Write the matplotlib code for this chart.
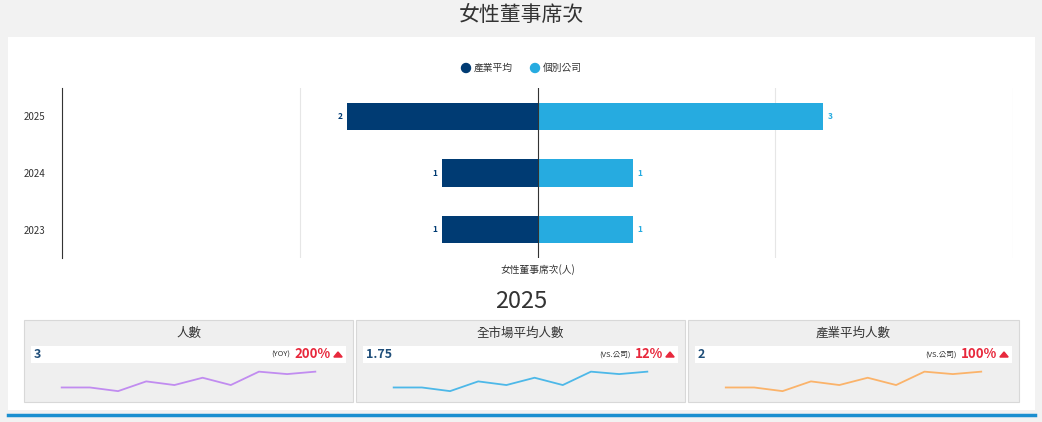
import matplotlib.pyplot as plt
from matplotlib.patches import Rectangle, Polygon, Ellipse

plt.rcParams['font.family'] = ['Noto Sans CJK TC', 'DejaVu Sans']

# data
years = ["2023", "2024", "2025"]
industry_avg = [1, 1, 2]
company = [1, 1, 3]

card_titles = ["人數", "全市場平均人數", "產業平均人數"]
card_values = ["3", "1.75", "2"]
card_tags = ["(YOY)", "(VS.公司)", "(VS.公司)"]
card_pcts = ["200%", "12%", "100%"]
card_colors = ["#c18cf0", "#4db8e8", "#fbb36a"]
spark = [1.0, 1.0, 0.7, 1.5, 1.2, 1.8, 1.2, 2.3, 2.1, 2.3]

W, H = 1042, 422
fig = plt.figure(figsize=(W / 100, H / 100), dpi=100)
fig.patch.set_facecolor("#f2f2f2")

def fx(px):
    return px / W

def fy(py):
    return 1 - py / H

# white panel
fig.patches.append(Rectangle((fx(8), fy(410)), fx(1035) - fx(8), fy(37) - fy(410),
                             transform=fig.transFigure, facecolor="white", edgecolor="none", zorder=0))
fig.text(0.5, fy(15), "女性董事席次", ha="center", va="center", fontsize=15, color="#333333")

# bar chart
ax = fig.add_axes([fx(62), fy(258), fx(1013) - fx(62), fy(88) - fy(258)])
ax.set_zorder(5)
ax.patch.set_alpha(0)
y = range(len(years))
ax.barh(y, [-v for v in industry_avg], height=0.48, color="#003b73")
ax.barh(y, company, height=0.48, color="#26abe0")
for i in y:
    ax.text(-industry_avg[i] - 0.05, i, str(industry_avg[i]), ha="right", va="center",
            fontsize=6, color="#003b73", fontweight="bold")
    ax.text(company[i] + 0.05, i, str(company[i]), ha="left", va="center",
            fontsize=6, color="#26abe0", fontweight="bold")
ax.set_xlim(-5, 5)
ax.set_ylim(-0.5, 2.5)
ax.set_xticks([-5, -2.5, 2.5, 5])
ax.set_xticklabels([])
ax.tick_params(length=0)
ax.grid(axis="x", color="#e6e6e6", linewidth=0.8)
ax.axvline(0, color="#333333", linewidth=0.8)
ax.set_yticks(list(y))
ax.set_yticklabels(years, fontsize=7, color="#333333")
ax.tick_params(axis="y", pad=12)
for s in ["top", "right", "bottom"]:
    ax.spines[s].set_visible(False)
ax.spines["left"].set_color("#333333")
ax.set_axisbelow(True)
ax.text(0, -0.6, "女性董事席次(人)", ha="center", va="top", fontsize=7, color="#333333")

# legend
for cx, tx, lab, col in [(466, 474, "產業平均", "#003b73"), (535, 543, "個別公司", "#26abe0")]:
    fig.patches.append(Ellipse((fx(cx), fy(68)), 9 / W, 9 / H, transform=fig.transFigure, color=col))
    fig.text(fx(tx), fy(68), lab, fontsize=7, va="center", color="#333333")

fig.text(0.5, fy(302), "2025", ha="center", va="center", fontsize=17, color="#333333")

# cards
cards_x = [(24, 353), (356, 685), (688, 1019)]
for k, (x0, x1) in enumerate(cards_x):
    fig.patches.append(Rectangle((fx(x0), fy(402)), fx(x1) - fx(x0), fy(320) - fy(402),
                                 transform=fig.transFigure, facecolor="#efefef",
                                 edgecolor="#d8d8d8", linewidth=0.8))
    fig.text(fx((x0 + x1) / 2), fy(333), card_titles[k], ha="center", va="center",
             fontsize=9, color="#333333")
    fig.patches.append(Rectangle((fx(x0 + 7), fy(363)), fx(x1 - 7) - fx(x0 + 7), fy(346) - fy(363),
                                 transform=fig.transFigure, facecolor="white", edgecolor="none"))
    fig.text(fx(x0 + 10), fy(354.5), card_values[k], ha="left", va="center",
             fontsize=9, fontweight="bold", color="#1f4e79")
    tx = fx(x1 - 22)
    pct = fig.text(tx, fy(354.5), card_pcts[k], ha="right", va="center", fontsize=9.5,
                   fontweight="bold", color="#e8283c")
    fig.canvas.draw()
    bb = pct.get_window_extent()
    fig.text(bb.x0 / W - 0.004, fy(354.5), card_tags[k], ha="right", va="center",
             fontsize=5.5, color="#333333")
    tri_x, tri_y = fx(x1 - 15), fy(354.5)
    fig.patches.append(Polygon([(tri_x - 0.004, tri_y - 0.006), (tri_x + 0.004, tri_y - 0.006),
                                (tri_x, tri_y + 0.006)], closed=True,
                               transform=fig.transFigure, color="#e8283c"))
    sax = fig.add_axes([fx(x0 + 25), fy(396), fx(x1 - 25) - fx(x0 + 25), fy(368) - fy(396)])
    sax.set_zorder(5)
    sax.plot(range(len(spark)), spark, color=card_colors[k], linewidth=1.3)
    sax.set_ylim(0.3, 2.6)
    sax.axis("off")

# bottom line
fig.add_artist(plt.Line2D([fx(8), fx(1035)], [fy(415), fy(415)], transform=fig.transFigure,
                          color="#1b8fd0", linewidth=2.5))

fig.savefig("out.png", dpi=100, facecolor=fig.get_facecolor())
